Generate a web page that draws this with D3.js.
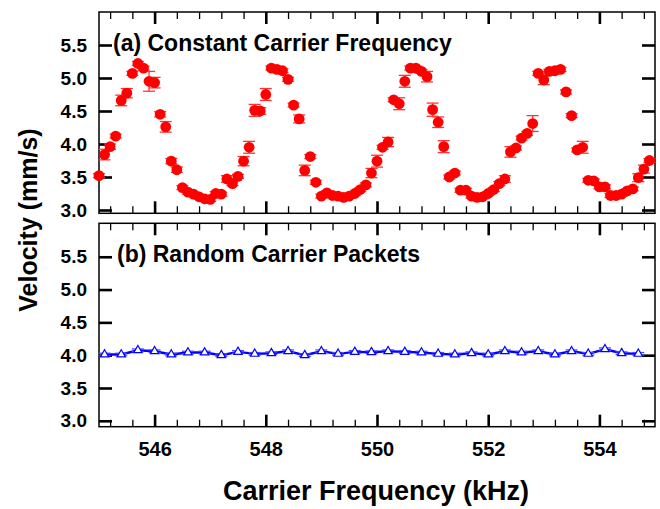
<!DOCTYPE html>
<html>
<head>
<meta charset="utf-8">
<script src="https://cdn.jsdelivr.net/npm/d3@7"></script>
<style>
body { margin: 0; background: #fff; }
</style>
</head>
<body>
<div id="chart"></div>
<script>
// (a) constant carrier frequency: red circles
var freqA = [
	545.0, 545.1, 545.2, 545.3, 545.4, 545.5, 545.6, 545.7, 545.8, 545.9,
	546.0, 546.1, 546.2, 546.3, 546.4, 546.5, 546.6, 546.7, 546.8, 546.9,
	547.0, 547.1, 547.2, 547.3, 547.4, 547.5, 547.6, 547.7, 547.8, 547.9,
	548.0, 548.1, 548.2, 548.3, 548.4, 548.5, 548.6, 548.7, 548.8, 548.9,
	549.0, 549.1, 549.2, 549.3, 549.4, 549.5, 549.6, 549.7, 549.8, 549.9,
	550.0, 550.1, 550.2, 550.3, 550.4, 550.5, 550.6, 550.7, 550.8, 550.9,
	551.0, 551.1, 551.2, 551.3, 551.4, 551.5, 551.6, 551.7, 551.8, 551.9,
	552.0, 552.1, 552.2, 552.3, 552.4, 552.5, 552.6, 552.7, 552.8, 552.9,
	553.0, 553.1, 553.2, 553.3, 553.4, 553.5, 553.6, 553.7, 553.8, 553.9,
	554.0, 554.1, 554.2, 554.3, 554.4, 554.5, 554.6, 554.7, 554.8, 554.9
];
var velA = [
	3.52, 3.84, 3.96, 4.12, 4.66, 4.77, 5.07, 5.22, 5.15, 4.95,
	4.93, 4.45, 4.26, 3.74, 3.61, 3.34, 3.27, 3.24, 3.20, 3.17,
	3.16, 3.25, 3.24, 3.47, 3.40, 3.51, 3.74, 3.95, 4.51, 4.50,
	4.75, 5.15, 5.13, 5.11, 4.98, 4.59, 4.38, 3.60, 3.81, 3.42,
	3.21, 3.26, 3.22, 3.21, 3.19, 3.21, 3.25, 3.31, 3.38, 3.56,
	3.74, 3.95, 4.03, 4.67, 4.61, 4.95, 5.15, 5.15, 5.10, 5.02,
	4.52, 4.33, 3.96, 3.50, 3.56, 3.30, 3.30, 3.21, 3.19, 3.20,
	3.25, 3.31, 3.40, 3.47, 3.88, 3.94, 4.09, 4.16, 4.31, 5.07,
	4.97, 5.10, 5.11, 5.13, 4.79, 4.43, 3.91, 3.95, 3.45, 3.44,
	3.35, 3.35, 3.22, 3.22, 3.24, 3.29, 3.32, 3.49, 3.62, 3.75
];
var errA = [
	0.03, 0.08, 0.04, 0.03, 0.08, 0.07, 0.03, 0.03, 0.03, 0.15,
	0.08, 0.04, 0.08, 0.04, 0.04, 0.03, 0.03, 0.03, 0.03, 0.03,
	0.03, 0.03, 0.03, 0.05, 0.03, 0.03, 0.07, 0.09, 0.09, 0.05,
	0.09, 0.03, 0.03, 0.03, 0.03, 0.03, 0.06, 0.08, 0.03, 0.03,
	0.03, 0.03, 0.03, 0.03, 0.03, 0.03, 0.03, 0.03, 0.03, 0.07,
	0.09, 0.03, 0.07, 0.03, 0.09, 0.09, 0.03, 0.03, 0.03, 0.08,
	0.10, 0.08, 0.09, 0.03, 0.03, 0.03, 0.03, 0.03, 0.03, 0.03,
	0.03, 0.03, 0.03, 0.05, 0.08, 0.03, 0.03, 0.03, 0.12, 0.03,
	0.07, 0.03, 0.03, 0.03, 0.03, 0.03, 0.03, 0.09, 0.03, 0.03,
	0.03, 0.03, 0.03, 0.03, 0.03, 0.03, 0.03, 0.06, 0.06, 0.03
];

// (b) random carrier packets: blue open triangles
var freqB = [
	545.1, 545.4, 545.7, 546.0, 546.3, 546.6, 546.9, 547.2, 547.5, 547.8,
	548.1, 548.4, 548.7, 549.0, 549.3, 549.6, 549.9, 550.2, 550.5, 550.8,
	551.1, 551.4, 551.7, 552.0, 552.3, 552.6, 552.9, 553.2, 553.5, 553.8,
	554.1, 554.4, 554.7
];
var velB = [
	4.01, 4.01, 4.075, 4.06, 4.01, 4.04, 4.04, 4.00, 4.05, 4.02,
	4.03, 4.06, 4.00, 4.06, 4.02, 4.05, 4.045, 4.06, 4.05, 4.04,
	4.02, 4.01, 4.03, 4.01, 4.06, 4.04, 4.06, 4.01, 4.06, 4.02,
	4.09, 4.03, 4.02
];
var errB = [
	0.02, 0.02, 0.02, 0.02, 0.02, 0.02, 0.02, 0.02, 0.02, 0.02,
	0.02, 0.02, 0.02, 0.02, 0.02, 0.02, 0.02, 0.02, 0.02, 0.02,
	0.02, 0.02, 0.02, 0.02, 0.02, 0.02, 0.02, 0.02, 0.02, 0.02,
	0.02, 0.02, 0.02
];

var xMajor = [546, 548, 550, 552, 554];
var xMinor = [545.2, 545.6, 546.4, 546.8, 547.2, 547.6, 548.4, 548.8, 549.2, 549.6,
	550.4, 550.8, 551.2, 551.6, 552.4, 552.8, 553.2, 553.6, 554.4, 554.8];
var yTicks = [3.0, 3.5, 4.0, 4.5, 5.0, 5.5];
var panelLabels = ["(a) Constant Carrier Frequency", "(b) Random Carrier Packets"];


var width = 660,
	height = 509,
	plotLeft = 99,
	plotRight = 655,
	font = "'Liberation Sans', Arial, Helvetica, sans-serif";

var panels = [
	{ top: 12, bottom: 213.3, domain: [2.95, 6.0] },
	{ top: 223.3, bottom: 426.7, domain: [2.91, 6.01] }
];

var svg = d3.select("#chart").append("svg")
	.attr("width", width)
	.attr("height", height)
	.attr("xmlns", "http://www.w3.org/2000/svg")
	.style("font-family", font);

svg.append("rect")
	.attr("width", width)
	.attr("height", height)
	.attr("fill", "#fff");

var x = d3.scaleLinear().domain([545, 555]).range([plotLeft, plotRight]);

function translate(tx, ty) {
	return "translate(" + tx + "," + ty + ")";
}

function styleAxis(sel, strokeWidth) {
	sel.select(".domain").remove();
	sel.selectAll(".tick line")
		.attr("stroke", "#000")
		.attr("stroke-width", strokeWidth);
	sel.selectAll(".tick text")
		.attr("fill", "#000")
		.style("font-family", font)
		.style("font-weight", "bold");
}

panels.forEach(function (p, i) {
	var y = d3.scaleLinear().domain(p.domain).range([p.bottom, p.top]);
	var g = svg.append("g");
	var isLast = i === panels.length - 1;

	// x axis, bottom (major + minor)
	g.append("g")
		.attr("transform", translate(0, p.bottom))
		.call(d3.axisBottom(x).tickValues(xMajor).tickSize(-12).tickPadding(15)
			.tickFormat(isLast ? d3.format("d") : function () { return ""; }))
		.call(styleAxis, 2.6)
		.selectAll("text").style("font-size", "20px");
	g.append("g")
		.attr("transform", translate(0, p.bottom))
		.call(d3.axisBottom(x).tickValues(xMinor).tickSize(-7).tickFormat(""))
		.call(styleAxis, 1.3);

	// x axis, top
	g.append("g")
		.attr("transform", translate(0, p.top))
		.call(d3.axisTop(x).tickValues(xMajor).tickSize(-12).tickFormat(""))
		.call(styleAxis, 2.6);
	g.append("g")
		.attr("transform", translate(0, p.top))
		.call(d3.axisTop(x).tickValues(xMinor).tickSize(-7).tickFormat(""))
		.call(styleAxis, 1.3);

	// y axes
	g.append("g")
		.attr("transform", translate(plotLeft, 0))
		.call(d3.axisLeft(y).tickValues(yTicks).tickSize(-13).tickPadding(12).tickFormat(d3.format(".1f")))
		.call(styleAxis, 2.6)
		.selectAll("text").style("font-size", "19px");
	g.append("g")
		.attr("transform", translate(plotRight, 0))
		.call(d3.axisRight(y).tickValues(yTicks).tickSize(-13).tickFormat(""))
		.call(styleAxis, 2.6);

	// frame
	g.append("rect")
		.attr("x", plotLeft)
		.attr("y", p.top)
		.attr("width", plotRight - plotLeft)
		.attr("height", p.bottom - p.top)
		.attr("fill", "none")
		.attr("stroke", "#000")
		.attr("stroke-width", 1.5);

	g.append("text")
		.text(panelLabels[i])
		.attr("x", i === 0 ? 113 : 117)
		.attr("y", p.top + 39)
		.style("font-size", "23px")
		.style("font-weight", "bold")
		.attr("fill", "#000");

	if (i === 0) {
		var ptsA = freqA.map(function (f, k) { return { f: f, v: velA[k], e: errA[k] }; });
		var bars = g.append("g").selectAll("g").data(ptsA).enter().append("g")
			.attr("stroke", "#f33")
			.attr("stroke-width", 1.3);
		bars.append("line")
			.attr("x1", function (d) { return x(d.f); })
			.attr("x2", function (d) { return x(d.f); })
			.attr("y1", function (d) { return y(d.v - d.e); })
			.attr("y2", function (d) { return y(d.v + d.e); });
		[-1, 1].forEach(function (s) {
			bars.append("line")
				.attr("x1", function (d) { return x(d.f) - 6; })
				.attr("x2", function (d) { return x(d.f) + 6; })
				.attr("y1", function (d) { return y(d.v + s * d.e); })
				.attr("y2", function (d) { return y(d.v + s * d.e); });
		});
		g.append("g").selectAll("circle").data(ptsA).enter().append("circle")
			.attr("cx", function (d) { return x(d.f); })
			.attr("cy", function (d) { return y(d.v); })
			.attr("r", 5.4)
			.attr("fill", "#ff0000");
	} else {
		var ptsB = freqB.map(function (f, k) { return { f: f, v: velB[k], e: errB[k] }; });
		g.append("path")
			.datum(ptsB)
			.attr("fill", "none")
			.attr("stroke", "#0000ff")
			.attr("stroke-width", 2.4)
			.attr("d", d3.line().x(function (d) { return x(d.f); }).y(function (d) { return y(d.v); }));
		var barsB = g.append("g").selectAll("g").data(ptsB).enter().append("g")
			.attr("stroke", "#4a4aff")
			.attr("stroke-width", 1.3);
		barsB.append("line")
			.attr("x1", function (d) { return x(d.f); })
			.attr("x2", function (d) { return x(d.f); })
			.attr("y1", function (d) { return y(d.v - d.e); })
			.attr("y2", function (d) { return y(d.v + d.e); });
		[-1, 1].forEach(function (s) {
			barsB.append("line")
				.attr("x1", function (d) { return x(d.f) - 6; })
				.attr("x2", function (d) { return x(d.f) + 6; })
				.attr("y1", function (d) { return y(d.v + s * d.e); })
				.attr("y2", function (d) { return y(d.v + s * d.e); });
		});
		g.append("g").selectAll("path.tri").data(ptsB).enter().append("path")
			.attr("class", "tri")
			.attr("transform", function (d) { return translate(x(d.f), y(d.v)); })
			.attr("d", d3.symbol().type(d3.symbolTriangle).size(30))
			.attr("fill", "#fff")
			.attr("stroke", "#0000ff")
			.attr("stroke-width", 1.2);
	}
});

// axis titles
svg.append("text")
	.text("Carrier Frequency (kHz)")
	.attr("x", 376)
	.attr("y", 500)
	.attr("text-anchor", "middle")
	.style("font-size", "27px")
	.style("font-weight", "bold")
	.attr("fill", "#000");

svg.append("text")
	.text("Velocity (mm/s)")
	.attr("transform", translate(37, 220) + " rotate(-90)")
	.attr("text-anchor", "middle")
	.style("font-size", "25px")
	.style("font-weight", "bold")
	.attr("fill", "#000");
</script>
</body>
</html>
